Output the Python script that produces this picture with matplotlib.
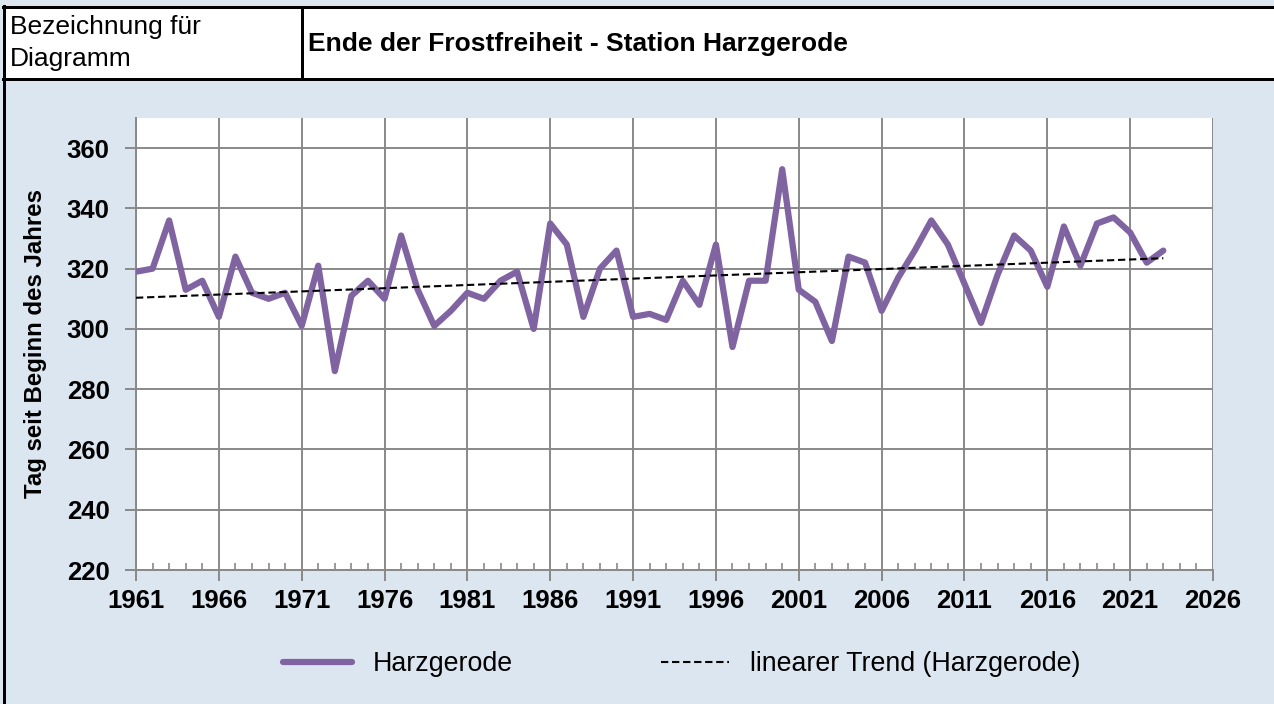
import numpy as np
import matplotlib
matplotlib.use("Agg")
import matplotlib.pyplot as plt
from matplotlib.lines import Line2D
from matplotlib.patches import Rectangle

plt.rcParams["font.family"] = ["Liberation Sans", "DejaVu Sans"]

# data
years = np.arange(1961, 2024)
frost_end = [
    319, 320, 336, 313, 316, 304, 324, 312, 310, 312,   # 1961-1970
    301, 321, 286, 311, 316, 310, 331, 313, 301, 306,   # 1971-1980
    312, 310, 316, 319, 300, 335, 328, 304, 320, 326,   # 1981-1990
    304, 305, 303, 316, 308, 328, 294, 316, 316, 353,   # 1991-2000
    313, 309, 296, 324, 322, 306, 317, 326, 336, 328,   # 2001-2010
    315, 302, 318, 331, 326, 314, 334, 321, 335, 337,   # 2011-2020
    332, 322, 326,                                      # 2021-2023
]
x_ticks = list(range(1961, 2027, 5))
y_ticks = list(range(220, 361, 20))

title = "Ende der Frostfreiheit - Station Harzgerode"
label_left = ["Bezeichnung für", "Diagramm"]
y_label = "Tag seit Beginn des Jahres"
series_name = "Harzgerode"
trend_name = "linearer Trend (Harzgerode)"

BG = "#DCE6F1"
PURPLE = "#8064A2"
GRID = "#898989"

W, H = 1274, 704


def fx(px):
    return px / W


def fy(py):
    return 1 - py / H


fig = plt.figure(figsize=(W / 100, H / 100), dpi=100, facecolor=BG)

# header box (two cells)
fig.add_artist(Rectangle((fx(4), fy(79)), fx(W) - fx(4), (79 - 7) / H,
                         transform=fig.transFigure, facecolor="white", edgecolor="none"))
lw_px = 3 * 0.72
fig.add_artist(Line2D([fx(3), fx(W)], [fy(7), fy(7)], transform=fig.transFigure, color="black", lw=lw_px))
fig.add_artist(Line2D([fx(3), fx(W)], [fy(79), fy(79)], transform=fig.transFigure, color="black", lw=lw_px))
fig.add_artist(Line2D([fx(4), fx(4)], [fy(6), fy(H)], transform=fig.transFigure, color="black", lw=lw_px))
fig.add_artist(Line2D([fx(302), fx(302)], [fy(7), fy(79)], transform=fig.transFigure, color="black", lw=lw_px))

fig.text(fx(10), fy(27), label_left[0], fontsize=19, va="center", ha="left")
fig.text(fx(10), fy(59), label_left[1], fontsize=19, va="center", ha="left")
fig.text(fx(308), fy(44), title, fontsize=19, fontweight="bold", va="center", ha="left")

# chart
ax = fig.add_axes([fx(136), fy(570), fx(1213) - fx(136), fy(118) - fy(570)])
ax.set_facecolor("white")

ax.plot(years, frost_end, color=PURPLE, lw=4.5, solid_joinstyle="round",
        solid_capstyle="round", label=series_name, zorder=3)

# linear trend from the series itself
coef = np.polyfit(years, frost_end, 1)
trend = np.polyval(coef, years)
ax.plot(years, trend, color="black", lw=1.5, linestyle=(0, (3.5, 1.8)),
        label=trend_name, zorder=4)

ax.set_xlim(1961, 2026)
ax.set_ylim(220, 370)
ax.set_xticks(x_ticks)
ax.set_xticks(range(1961, 2027), minor=True)
ax.set_yticks(y_ticks)

ax.grid(True, which="major", color=GRID, lw=1.4)
ax.set_axisbelow(True)
for side in ["top", "right"]:
    ax.spines[side].set_visible(False)
for side in ["left", "bottom"]:
    ax.spines[side].set_color(GRID)
    ax.spines[side].set_linewidth(1.4)

ax.tick_params(axis="both", which="major", direction="out", length=8, width=1.4,
               color=GRID, labelsize=18.5)
ax.tick_params(axis="x", which="major", pad=6)
ax.tick_params(axis="y", which="major", pad=11)
ax.tick_params(axis="x", which="minor", direction="in", length=5, width=1.2, color=GRID)
for lab in ax.get_xticklabels() + ax.get_yticklabels():
    lab.set_fontweight("bold")

ax.set_ylabel(y_label, fontsize=17.3, fontweight="bold", labelpad=14)

fig.legend(loc="center", bbox_to_anchor=(fx(682), fy(664)), ncol=2, frameon=False,
           fontsize=19.3, handlelength=2.55, handletextpad=0.8, columnspacing=5.5)

fig.savefig("out.png", dpi=100, facecolor=BG)
